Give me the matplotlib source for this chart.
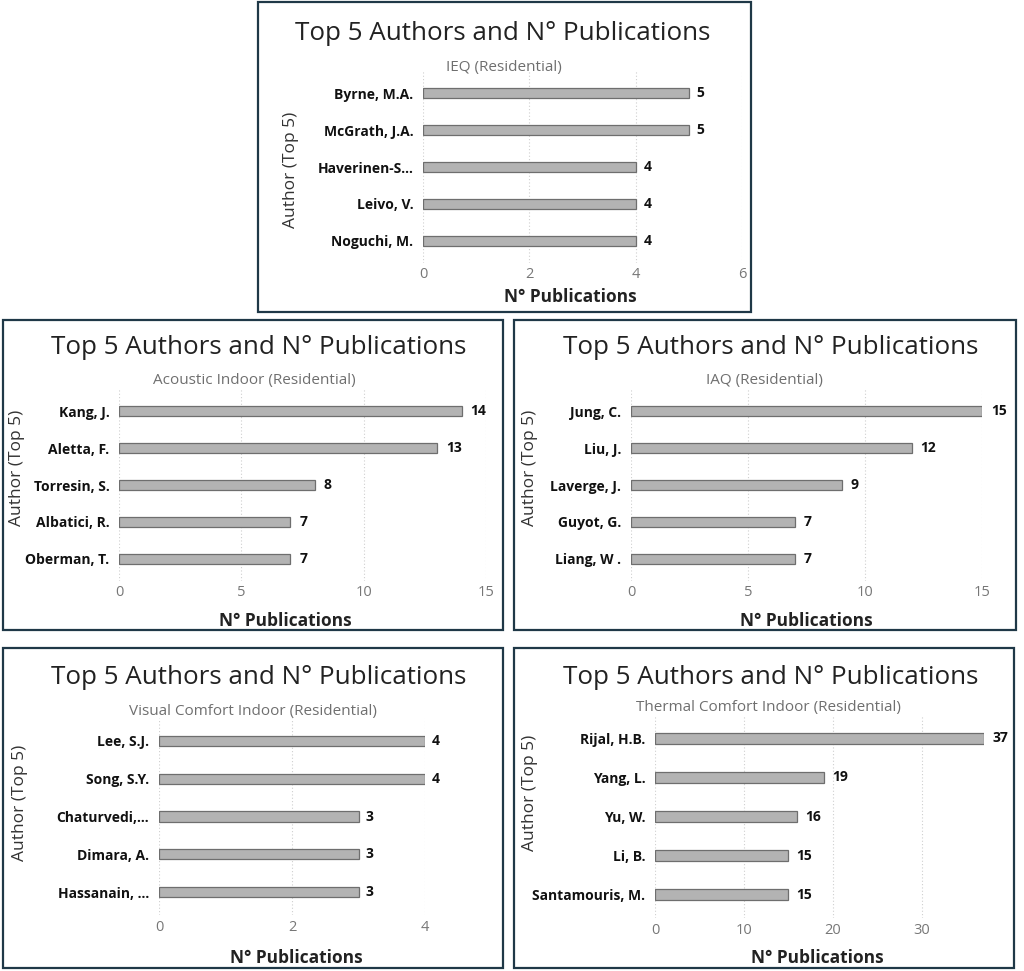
import matplotlib
matplotlib.use("Agg")
import matplotlib.pyplot as plt
from matplotlib.patches import Rectangle

plt.rcParams['font.family'] = ['Open Sans', 'DejaVu Sans']

W, H = 1024, 971

# data, one list per panel
ieq_authors = ["Byrne, M.A.", "McGrath, J.A.", "Haverinen-S...", "Leivo, V.", "Noguchi, M."]
ieq_pubs = [5, 5, 4, 4, 4]

acoustic_authors = ["Kang, J.", "Aletta, F.", "Torresin, S.", "Albatici, R.", "Oberman, T."]
acoustic_pubs = [14, 13, 8, 7, 7]

iaq_authors = ["Jung, C.", "Liu, J.", "Laverge, J.", "Guyot, G.", "Liang, W ."]
iaq_pubs = [15, 12, 9, 7, 7]

visual_authors = ["Lee, S.J.", "Song, S.Y.", "Chaturvedi,...", "Dimara, A.", "Hassanain, ..."]
visual_pubs = [4, 4, 3, 3, 3]

thermal_authors = ["Rijal, H.B.", "Yang, L.", "Yu, W.", "Li, B.", "Santamouris, M."]
thermal_pubs = [37, 19, 16, 15, 15]

title = "Top 5 Authors and N\u00b0 Publications"

fig = plt.figure(figsize=(W / 100, H / 100), dpi=100)


def fx(x):
    return x / W


def fy(y):
    return 1 - y / H


def panel(box, ax_box, names, vals, xlim, ticks, subtitle, title_xy, sub_xy, xlab_xy, ylab_xy, tick_y):
    # border of the card
    x0, y0, x1, y1 = box
    fig.patches.append(Rectangle((fx(x0), fy(y1)), fx(x1 - x0), (y1 - y0) / H,
                                 transform=fig.transFigure, fill=False,
                                 edgecolor="#1f3847", linewidth=1.6))
    ax0, ay0, ax1, ay1 = ax_box
    ax = fig.add_axes([fx(ax0), fy(ay1), fx(ax1 - ax0), (ay1 - ay0) / H])
    pos = list(range(len(names)))
    ax.barh(pos, vals, height=0.27, color="#b3b3b3", edgecolor="#6e6e6e", linewidth=0.9, zorder=3)
    for p, v in zip(pos, vals):
        ax.text(v + (xlim[1] - xlim[0]) * 0.025, p, str(v), va="center", ha="left",
                fontsize=10, fontweight="bold", color="#111111", clip_on=False)
    ax.set_ylim(len(names) - 0.4, -0.6)
    ax.set_xlim(*xlim)
    ax.set_yticks(pos)
    ax.set_yticklabels(names, fontsize=10, fontweight="bold", color="#111111")
    ax.set_xticks(ticks)
    ax.set_xticklabels([])
    for t in ticks:
        fig.text(fx(ax0 + (t - xlim[0]) / (xlim[1] - xlim[0]) * (ax1 - ax0)), fy(tick_y), str(t),
                 ha="center", va="center", fontsize=10.5, color="#777777")
    ax.tick_params(axis="both", length=0, pad=7)
    ax.grid(axis="x", linestyle=(0, (1, 2)), color="#cfcfcf", linewidth=0.8, zorder=0)
    for s in ax.spines.values():
        s.set_visible(False)
    fig.text(fx(title_xy[0]), fy(title_xy[1]), title, ha="center", va="center",
             fontsize=18.7, color="#222222")
    fig.text(fx(sub_xy[0]), fy(sub_xy[1]), subtitle, ha="center", va="center",
             fontsize=11, color="#6f6f6f")
    fig.text(fx(xlab_xy[0]), fy(xlab_xy[1]), "N\u00b0 Publications", ha="center", va="center",
             fontsize=12.5, fontweight="bold", color="#222222")
    fig.text(fx(ylab_xy[0]), fy(ylab_xy[1]), "Author (Top 5)", ha="center", va="center",
             rotation=90, fontsize=12.5, color="#333333")


panel((258, 2, 751, 312), (423, 71, 742, 263), ieq_authors, ieq_pubs, (0, 6), [0, 2, 4, 6],
      "IEQ (Residential)", (503, 33), (504, 67), (570, 297), (291, 170), 275)

panel((3, 320, 503, 630), (119, 389, 486, 581), acoustic_authors, acoustic_pubs, (0, 15), [0, 5, 10, 15],
      "Acoustic Indoor (Residential)", (259, 348), (254, 380), (285, 621), (17, 468), 593)

panel((514, 320, 1016, 630), (631, 389, 982, 581), iaq_authors, iaq_pubs, (0, 15), [0, 5, 10, 15],
      "IAQ (Residential)", (771, 348), (764, 380), (806, 621), (530, 468), 593)

panel((3, 648, 503, 968), (159, 718, 425, 915), visual_authors, visual_pubs, (0, 4), [0, 2, 4],
      "Visual Comfort Indoor (Residential)", (259, 677), (253, 711), (296, 958), (20, 803), 927)

panel((514, 648, 1014, 968), (655, 715, 984, 918), thermal_authors, thermal_pubs, (0, 37), [0, 10, 20, 30],
      "Thermal Comfort Indoor (Residential)", (771, 677), (768, 707), (817, 958), (530, 793), 930)

fig.savefig("out.png", dpi=100, facecolor="white")
